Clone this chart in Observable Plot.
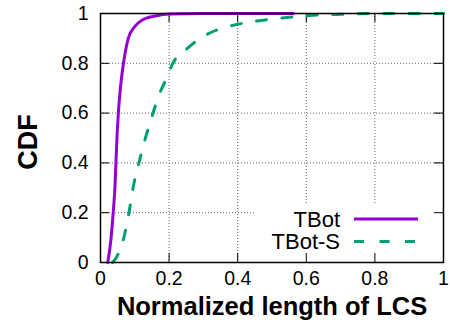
<!DOCTYPE html>
<html><head>
<meta charset="utf-8">
<script src="https://cdn.jsdelivr.net/npm/d3@7"></script>
<script src="https://cdn.jsdelivr.net/npm/@observablehq/plot@0.6"></script>
<style>
body{margin:0;background:#fff}
svg{font-family:"Liberation Sans",Arial,Helvetica,sans-serif}
</style>
</head><body>
<div id="chart"></div>
<script>
const xTicks = [0, 0.2, 0.4, 0.6, 0.8, 1];
const yTicks = [0, 0.2, 0.4, 0.6, 0.8, 1];
const xTickLabels = ["0", "0.2", "0.4", "0.6", "0.8", "1"];
const yTickLabels = ["0", "0.2", "0.4", "0.6", "0.8", "1"];
const seriesNames = ["TBot", "TBot-S"];
const seriesColors = ["#9400d3", "#009e73"];
const xTitle = "Normalized length of LCS";
const yTitle = "CDF";

const tbotX = [0.021, 0.031, 0.037, 0.042, 0.045, 0.048, 0.052, 0.058, 0.067, 0.081, 0.099, 0.121, 0.16, 0.2, 0.3, 0.563];
const tbotY = [0, 0.1, 0.2, 0.3, 0.4, 0.5, 0.6, 0.7, 0.8, 0.9, 0.946, 0.973, 0.99, 0.998, 1, 1];
const tbotSX = [0.035, 0.05, 0.068, 0.083, 0.095, 0.112, 0.131, 0.153, 0.17, 0.194, 0.211, 0.253, 0.306, 0.369, 0.437, 0.515, 0.59, 0.7, 0.8, 1.0];
const tbotSY = [0, 0.03, 0.1, 0.2, 0.3, 0.4, 0.5, 0.6, 0.67, 0.745, 0.8, 0.86, 0.913, 0.946, 0.966, 0.98, 0.99, 0.997, 1, 1];

const tbot = tbotX.map((x, i) => ({x, y: tbotY[i]}));
const tbotS = tbotSX.map((x, i) => ({x, y: tbotSY[i]}));
const innerX = xTicks.slice(1, -1);
const innerY = yTicks.slice(1, -1);
const TICK = 9;
const FW = 343, FH = 249;

const chart = Plot.plot({
  width: 450, height: 323,
  marginLeft: 100, marginRight: 7, marginTop: 13, marginBottom: 61,
  x: {domain: [0, 1], axis: null},
  y: {domain: [0, 1], axis: null},
  marks: [
    Plot.ruleX(innerX, {x: d => d, stroke: "#666", strokeWidth: 1, strokeDasharray: "1,2"}),
    Plot.ruleY(innerY, {y: d => d, stroke: "#666", strokeWidth: 1, strokeDasharray: "1,2"}),
    Plot.ruleX(xTicks, {x: d => d, insetTop: FH - TICK, stroke: "#000", strokeWidth: 1}),
    Plot.ruleX(xTicks, {x: d => d, insetBottom: FH - TICK, stroke: "#000", strokeWidth: 1}),
    Plot.ruleY(yTicks, {y: d => d, insetRight: FW - TICK, stroke: "#000", strokeWidth: 1}),
    Plot.ruleY(yTicks, {y: d => d, insetLeft: FW - TICK, stroke: "#000", strokeWidth: 1}),
    Plot.text(xTicks, {x: d => d, text: (d, i) => xTickLabels[i], frameAnchor: "bottom", dy: 16, textAnchor: "middle", lineAnchor: "middle", fontSize: 19.5, fill: "#000"}),
    Plot.text(yTicks, {y: d => d, text: (d, i) => yTickLabels[i], frameAnchor: "left", dx: -12, textAnchor: "end", lineAnchor: "middle", fontSize: 19.5, fill: "#000"}),
    Plot.text([xTitle], {text: d => d, frameAnchor: "bottom", dy: 44, textAnchor: "middle", lineAnchor: "middle", fontSize: 25.5, fontWeight: "bold", fill: "#000"}),
    Plot.text([yTitle], {text: d => d, frameAnchor: "left", dx: -72, dy: 4, rotate: -90, textAnchor: "middle", lineAnchor: "middle", fontSize: 27, fontWeight: "bold", fill: "#000"}),
    Plot.line(tbotS, {x: "x", y: "y", stroke: seriesColors[1], strokeWidth: 3, strokeDasharray: "10,15.5", curve: "monotone-x"}),
    Plot.line(tbot, {x: "x", y: "y", stroke: seriesColors[0], strokeWidth: 3, curve: "monotone-x"}),
    Plot.frame({stroke: "#000", strokeWidth: 1.5})
  ]
});
document.getElementById("chart").appendChild(chart);

// Legend (box hides grid behind it, drawn just after the grid groups)
const ns = "http://www.w3.org/2000/svg";
const grids = chart.querySelectorAll('g[stroke-dasharray="1,2"]');
const bg = document.createElementNS(ns, "rect");
bg.setAttribute("x", 256); bg.setAttribute("y", 203);
bg.setAttribute("width", 186); bg.setAttribute("height", 58);
bg.setAttribute("fill", "#fff");
const lastGrid = grids[grids.length - 1];
lastGrid.parentNode.insertBefore(bg, lastGrid.nextSibling);

const leg = document.createElementNS(ns, "g");
const rows = [219, 241.5];
seriesNames.forEach((name, i) => {
  const t = document.createElementNS(ns, "text");
  t.setAttribute("x", 340); t.setAttribute("y", rows[i]);
  t.setAttribute("dy", "0.35em");
  t.setAttribute("text-anchor", "end");
  t.setAttribute("font-size", 22);
  t.setAttribute("fill", "#000");
  t.textContent = name;
  leg.appendChild(t);
  const l = document.createElementNS(ns, "line");
  l.setAttribute("x1", 354); l.setAttribute("x2", 418);
  l.setAttribute("y1", rows[i]); l.setAttribute("y2", rows[i]);
  l.setAttribute("stroke", seriesColors[i]);
  l.setAttribute("stroke-width", 3);
  if (i === 1) l.setAttribute("stroke-dasharray", "10,15.5");
  leg.appendChild(l);
});
chart.appendChild(leg);
</script>
</body></html>
